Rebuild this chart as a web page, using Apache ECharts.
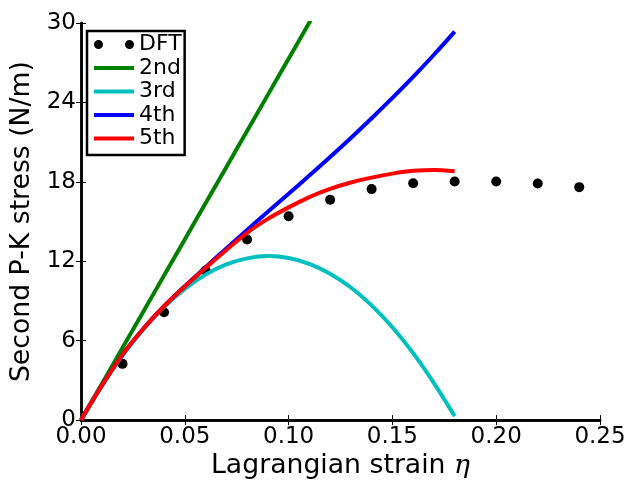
<!DOCTYPE html>
<html>
<head>
<meta charset="utf-8">
<script src="https://cdn.jsdelivr.net/npm/echarts@6/dist/echarts.min.js"></script>
<style>
html,body{margin:0;padding:0;background:#fff;}
#chart{width:631px;height:485px;}
</style>
</head>
<body>
<div id="chart"></div>
<script>
// ---- data ----
const dftStrain = [0.02, 0.04, 0.06, 0.08, 0.10, 0.12, 0.14, 0.16, 0.18, 0.20, 0.22, 0.24];
const dftStress = [4.25, 8.15, 11.3, 13.65, 15.4, 16.65, 17.45, 17.9, 18.02, 18.02, 17.87, 17.6];

const fitStrain = [0.00, 0.01, 0.02, 0.03, 0.04, 0.05, 0.06, 0.07, 0.08, 0.09,
                   0.10, 0.11, 0.12, 0.13, 0.14, 0.15, 0.16, 0.17, 0.18];
const fit2nd = [0.0, 2.73, 5.46, 8.19, 10.92, 13.65, 16.38, 19.11, 21.84, 24.57,
                27.3, 30.03, 32.76, 35.49, 38.22, 40.95, 43.68, 46.41, 49.14];
const fit3rd = [0.0, 2.59, 4.87, 6.86, 8.54, 9.91, 10.99, 11.76, 12.22, 12.39,
                12.25, 11.81, 11.06, 10.02, 8.67, 7.01, 5.06, 2.80, 0.30];
const fit4th = [0.0, 2.6, 4.95, 6.9, 8.6, 10.12, 11.55, 12.97, 14.37, 15.74,
                17.1, 18.47, 19.87, 21.31, 22.8, 24.34, 25.93, 27.6, 29.35];
const fit5th = [0.0, 2.6, 4.95, 6.9, 8.6, 10.1, 11.5, 12.85, 14.15, 15.2,
                16.07, 16.85, 17.47, 17.95, 18.32, 18.62, 18.83, 18.9, 18.8];

const xTicks = [0, 0.05, 0.10, 0.15, 0.20, 0.25];
const xTickLabels = ['0.00', '0.05', '0.10', '0.15', '0.20', '0.25'];
const yTicks = [0, 6, 12, 18, 24, 30];
const yTickLabels = ['0', '6', '12', '18', '24', '30'];

const seriesNames = ['DFT', '2nd', '3rd', '4th', '5th'];
const seriesColors = ['#000000', '#008000', '#00BFBF', '#0000FF', '#FF0000'];

// ---- helpers ----
const pair = (xs, ys) => xs.map((x, i) => [x, ys[i]]);
const lookup = (ticks, labels) => v => {
  const i = ticks.findIndex(t => Math.abs(t - v) < 1e-9);
  return i >= 0 ? labels[i] : '';
};
const FONT = 'DejaVu Sans';
const LINE_ICON = 'path://M0,0L40,0L40,4L0,4Z';
const DOTS_ICON = 'path://M0,4.5A4.5,4.5 0 1 1 9,4.5A4.5,4.5 0 1 1 0,4.5Z M31,4.5A4.5,4.5 0 1 1 40,4.5A4.5,4.5 0 1 1 31,4.5Z';

const baseAxisLine = { show: true, lineStyle: { color: '#000', width: 2.5 } };
const baseTick = { show: true, inside: true, length: 5, lineStyle: { color: '#000', width: 1 } };

const chart = echarts.init(document.getElementById('chart'), null, { renderer: 'canvas' });

function lineSeries(name, ys, z) {
  const idx = seriesNames.indexOf(name);
  return {
    name: name,
    type: 'line',
    data: pair(fitStrain, ys),
    showSymbol: false,
    symbol: 'none',
    smooth: 0.35,
    clip: true,
    z: z,
    color: seriesColors[idx],
    lineStyle: { color: seriesColors[idx], width: 4 },
    emphasis: { disabled: true },
    animation: false
  };
}

const option = {
  animation: false,
  backgroundColor: '#fff',
  grid: { left: 81, right: 31, top: 23, bottom: 63, containLabel: false },
  legend: {
    orient: 'vertical',
    left: 87,
    top: 31,
    padding: [2, 3, 5, 7],
    borderColor: '#000',
    borderWidth: 2.5,
    borderRadius: 0,
    backgroundColor: '#fff',
    itemWidth: 40,
    itemHeight: 9,
    itemGap: 0.5,
    symbolKeepAspect: true,
    selectedMode: false,
    textStyle: { fontFamily: FONT, fontSize: 22, color: '#000', lineHeight: 23 },
    data: seriesNames.map((n, i) => ({
      name: n,
      icon: i === 0 ? DOTS_ICON : LINE_ICON,
      itemStyle: { color: seriesColors[i], opacity: 1, borderWidth: 0 }
    }))
  },
  xAxis: [
    {
      type: 'value', min: 0, max: 0.25, interval: 0.05, position: 'bottom',
      name: '{a|Lagrangian strain }{b|η}',
      nameLocation: 'middle', nameGap: 25,
      nameTextStyle: {
        rich: {
          a: { fontFamily: FONT, fontSize: 26.7, color: '#000' },
          b: { fontFamily: 'DejaVu Serif', fontStyle: 'italic', fontSize: 26.7, color: '#000' }
        }
      },
      axisLine: baseAxisLine, axisTick: baseTick,
      axisLabel: { show: true, margin: 5, fontFamily: FONT, fontSize: 23, color: '#000',
                   formatter: lookup(xTicks, xTickLabels) },
      splitLine: { show: false }
    },
    {
      type: 'value', min: 0, max: 0.25, interval: 0.05, position: 'top',
      axisLine: baseAxisLine, axisTick: baseTick,
      axisLabel: { show: false }, splitLine: { show: false }
    }
  ],
  yAxis: [
    {
      type: 'value', min: 0, max: 30, interval: 6, position: 'left',
      name: 'Second P-K stress (N/m)',
      nameLocation: 'middle', nameGap: 42,
      nameTextStyle: { fontFamily: FONT, fontSize: 26.7, color: '#000' },
      axisLine: baseAxisLine, axisTick: baseTick,
      axisLabel: { show: true, margin: 5, fontFamily: FONT, fontSize: 23, color: '#000',
                   formatter: lookup(yTicks, yTickLabels) },
      splitLine: { show: false }
    },
    {
      type: 'value', min: 0, max: 30, interval: 6, position: 'right',
      axisLine: baseAxisLine, axisTick: baseTick,
      axisLabel: { show: false }, splitLine: { show: false }
    }
  ],
  series: [
    {
      name: 'DFT', type: 'scatter',
      data: pair(dftStrain, dftStress),
      symbol: 'circle', symbolSize: 10,
      color: '#000',
      itemStyle: { color: '#000', opacity: 1 },
      z: 1,
      emphasis: { disabled: true }
    },
    lineSeries('2nd', fit2nd, 2),
    lineSeries('3rd', fit3rd, 3),
    lineSeries('4th', fit4th, 4),
    lineSeries('5th', fit5th, 5)
  ]
};

chart.setOption(option);
</script>
</body>
</html>
